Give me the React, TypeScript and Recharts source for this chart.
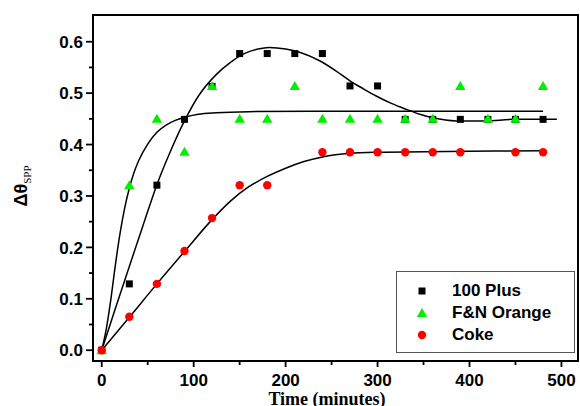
import React from "react";
import {
  ComposedChart,
  XAxis,
  YAxis,
  Line,
  Scatter,
  Legend,
  ReferenceArea,
} from "recharts";

// ---- measured points ----
const PLUS_T = [0, 30, 60, 90, 120, 150, 180, 210, 240, 270, 300, 330, 360, 390, 420, 450, 480];
const PLUS_V = [0, 0.129, 0.321, 0.449, 0.513, 0.577, 0.577, 0.577, 0.577, 0.514, 0.514, 0.449, 0.449, 0.449, 0.449, 0.449, 0.449];

const FN_T = [0, 30, 60, 90, 120, 150, 180, 210, 240, 270, 300, 330, 360, 390, 420, 450, 480];
const FN_V = [0, 0.321, 0.45, 0.386, 0.514, 0.45, 0.45, 0.514, 0.45, 0.45, 0.45, 0.45, 0.45, 0.514, 0.45, 0.45, 0.514];

const COKE_T = [0, 30, 60, 90, 120, 150, 180, 240, 270, 300, 330, 360, 390, 450, 480];
const COKE_V = [0, 0.065, 0.129, 0.193, 0.257, 0.321, 0.321, 0.385, 0.385, 0.385, 0.385, 0.385, 0.385, 0.385, 0.385];

// ---- fitted curves ----
const FIT_PLUS_T = [0, 15, 30, 45, 60, 75, 90, 105, 125, 140, 155, 170, 182, 200, 216, 237, 255, 270, 285, 299, 315, 332, 346, 360, 386, 418, 447, 495];
const FIT_PLUS_V = [0, 0.082, 0.163, 0.243, 0.322, 0.388, 0.446, 0.494, 0.537, 0.56, 0.577, 0.586, 0.589, 0.586, 0.579, 0.563, 0.543, 0.524, 0.508, 0.494, 0.48, 0.468, 0.459, 0.452, 0.446, 0.446, 0.449, 0.449];

const FIT_FN_T = [0, 5, 10, 15, 20, 25, 30, 35, 40, 50, 60, 70, 80, 90, 105, 125, 160, 250, 480];
const FIT_FN_V = [0, 0.042, 0.1, 0.168, 0.228, 0.277, 0.315, 0.345, 0.368, 0.401, 0.424, 0.438, 0.447, 0.453, 0.459, 0.462, 0.464, 0.465, 0.465];

const FIT_COKE_T = [0, 30, 60, 90, 120, 140, 160, 180, 200, 220, 240, 270, 300, 400, 480];
const FIT_COKE_V = [0, 0.064, 0.129, 0.192, 0.254, 0.29, 0.318, 0.338, 0.354, 0.367, 0.376, 0.383, 0.385, 0.387, 0.388];

// ---- axes ----
const X_DOMAIN = [-9.5, 518];
const Y_DOMAIN = [-0.021, 0.652];
const X_TICKS = [0, 50, 100, 150, 200, 250, 300, 350, 400, 450, 500];
const Y_TICKS = [0, 0.05, 0.1, 0.15, 0.2, 0.25, 0.3, 0.35, 0.4, 0.45, 0.5, 0.55, 0.6];

const SERIES_NAMES = ["100 Plus", "F&N Orange", "Coke"];
const SERIES_COLORS = ["#000000", "#00ee00", "#ff0000"];
const SERIES_SHAPES = ["square", "triangle", "circle"];

const X_TITLE = "Time (minutes)";

const zip = (t: number[], v: number[]) => t.map((x, i) => ({ x, y: v[i] }));

const plusData = zip(PLUS_T, PLUS_V);
const fnData = zip(FN_T, FN_V);
const cokeData = zip(COKE_T, COKE_V);
const fitPlus = zip(FIT_PLUS_T, FIT_PLUS_V);
const fitFn = zip(FIT_FN_T, FIT_FN_V);
const fitCoke = zip(FIT_COKE_T, FIT_COKE_V);

const SANS = "'Liberation Sans', Arial, sans-serif";
const SERIF = "'Liberation Serif', 'Times New Roman', serif";

function Marker({ kind, cx, cy, color }: { kind: string; cx: number; cy: number; color: string }) {
  if (kind === "square") {
    return <rect x={cx - 3.5} y={cy - 3.5} width={7} height={7} fill={color} />;
  }
  if (kind === "triangle") {
    return <path d={`M${cx},${cy - 5} L${cx + 5.2},${cy + 4} L${cx - 5.2},${cy + 4} Z`} fill={color} />;
  }
  return <circle cx={cx} cy={cy} r={4.2} fill={color} />;
}

const makeShape = (i: number) => (props: any) =>
  props.cx == null ? <g /> : <Marker kind={SERIES_SHAPES[i]} cx={props.cx} cy={props.cy} color={SERIES_COLORS[i]} />;

const isMajorY = (v: number) => Math.abs(v * 10 - Math.round(v * 10)) < 1e-6;
const isMajorX = (v: number) => v % 100 === 0;

function YTick(props: any) {
  const { x, y, payload } = props;
  const major = isMajorY(payload.value);
  return (
    <g>
      <line x1={x} x2={x - (major ? 7 : 4)} y1={y} y2={y} stroke="#000" strokeWidth={1.8} />
      {major && (
        <text x={x - 10} y={y} dy="0.36em" textAnchor="end" fontFamily={SANS} fontWeight="bold" fontSize={17} fill="#000">
          {payload.value.toFixed(1)}
        </text>
      )}
    </g>
  );
}

function XTick(props: any) {
  const { x, y, payload } = props;
  const major = isMajorX(payload.value);
  return (
    <g>
      <line x1={x} x2={x} y1={y} y2={y + (major ? 6 : 4)} stroke="#000" strokeWidth={1.8} />
      {major && (
        <text x={x} y={y + 24.5} textAnchor="middle" fontFamily={SANS} fontWeight="bold" fontSize={17} fill="#000">
          {String(payload.value)}
        </text>
      )}
    </g>
  );
}

function YTitle() {
  return (
    <text x={27} y={186} transform="rotate(-90 27 186)" textAnchor="middle" fill="#000">
      <tspan fontFamily={SANS} fontWeight="bold" fontSize={18}>Δθ</tspan>
      <tspan fontFamily={SERIF} fontSize={11} dy={4}>SPP</tspan>
    </text>
  );
}

function XTitle() {
  return (
    <text x={327} y={404.5} textAnchor="middle" fontFamily={SERIF} fontWeight="bold" fontSize={18} fill="#000">
      {X_TITLE}
    </text>
  );
}

function LegendBox() {
  const rowY = [19.5, 41.5, 64];
  return (
    <div
      style={{
        position: "relative",
        width: 179,
        height: 82,
        boxSizing: "border-box",
        border: "1px solid #555",
        background: "#fff",
      }}
    >
      {SERIES_NAMES.map((name, i) => (
        <React.Fragment key={name}>
          <svg width={14} height={14} style={{ position: "absolute", left: 26 - 7 - 1, top: rowY[i] - 7 - 1 }}>
            <Marker kind={SERIES_SHAPES[i]} cx={7} cy={7} color={SERIES_COLORS[i]} />
          </svg>
          <div
            style={{
              position: "absolute",
              left: 56 - 1,
              top: rowY[i] - 11 - 1,
              height: 22,
              lineHeight: "22px",
              fontFamily: SANS,
              fontWeight: "bold",
              fontSize: 17,
              color: "#000",
              whiteSpace: "nowrap",
            }}
          >
            {name}
          </div>
        </React.Fragment>
      ))}
    </div>
  );
}

export default function App() {
  return (
    <div style={{ position: "absolute", left: 0, top: 0, width: 580, height: 406, background: "#fff" }}>
      <ComposedChart width={580} height={406} margin={{ top: 15, right: 2, bottom: 0, left: 0 }}>
        <XAxis
          dataKey="x"
          type="number"
          domain={X_DOMAIN}
          ticks={X_TICKS}
          allowDataOverflow
          height={45}
          tickSize={0}
          tickMargin={0}
          tickLine={false}
          tick={<XTick />}
          axisLine={{ stroke: "#000", strokeWidth: 2 }}
          interval={0}
          label={{ content: () => <XTitle /> }}
        />
        <YAxis
          type="number"
          domain={Y_DOMAIN}
          ticks={Y_TICKS}
          allowDataOverflow
          width={93}
          tickSize={0}
          tickMargin={0}
          tickLine={false}
          tick={<YTick />}
          axisLine={{ stroke: "#000", strokeWidth: 2 }}
          interval={0}
          label={{ content: () => <YTitle /> }}
        />
        <ReferenceArea
          x1={X_DOMAIN[0]}
          x2={X_DOMAIN[1]}
          y1={Y_DOMAIN[0]}
          y2={Y_DOMAIN[1]}
          fill="none"
          stroke="#000"
          strokeWidth={2}
          ifOverflow="visible"
        />
        <Line data={fitPlus} dataKey="y" type="monotone" stroke="#000" strokeWidth={1.5} dot={false} isAnimationActive={false} legendType="none" />
        <Line data={fitFn} dataKey="y" type="monotone" stroke="#000" strokeWidth={1.5} dot={false} isAnimationActive={false} legendType="none" />
        <Line data={fitCoke} dataKey="y" type="monotone" stroke="#000" strokeWidth={1.5} dot={false} isAnimationActive={false} legendType="none" />
        <Scatter name={SERIES_NAMES[0]} data={plusData} dataKey="y" fill={SERIES_COLORS[0]} shape={makeShape(0)} isAnimationActive={false} />
        <Scatter name={SERIES_NAMES[1]} data={fnData} dataKey="y" fill={SERIES_COLORS[1]} shape={makeShape(1)} isAnimationActive={false} />
        <Scatter name={SERIES_NAMES[2]} data={cokeData} dataKey="y" fill={SERIES_COLORS[2]} shape={makeShape(2)} isAnimationActive={false} />
        <Legend
          layout="vertical"
          align="center"
          verticalAlign="middle"
          content={() => <LegendBox />}
          wrapperStyle={{ position: "absolute", left: 396, top: 271, width: 179, height: 82, right: "auto", bottom: "auto" }}
        />
      </ComposedChart>
    </div>
  );
}
